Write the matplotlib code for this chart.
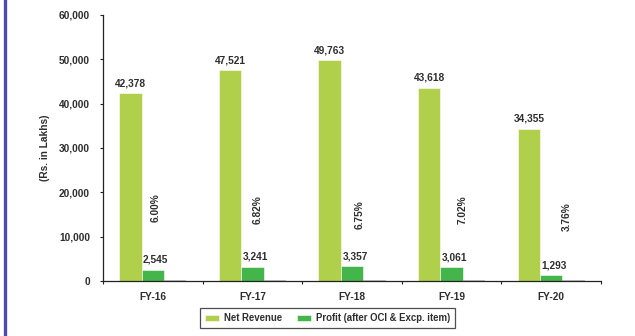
import matplotlib
matplotlib.use("Agg")
from matplotlib import pyplot as plt
from matplotlib.lines import Line2D
import numpy as np

years = ["FY-16", "FY-17", "FY-18", "FY-19", "FY-20"]
net_revenue = [42378, 47521, 49763, 43618, 34355]
profit = [2545, 3241, 3357, 3061, 1293]
margin = [6.00, 6.82, 6.75, 7.02, 3.76]

# where the rotated margin labels sit (x offset from group centre, y in data units)
pct_dx = [0.03, 0.05, 0.08, 0.11, 0.16]
pct_y = [16500, 16000, 14900, 16000, 14500]

plt.rcParams['font.family'] = ['Liberation Sans', 'DejaVu Sans']
txt = '#2e2e2e'
c_rev = '#b0cf4b'
c_pro = '#43b54b'
c_mar = '#b8b8b8'
fs = 7.3

fig = plt.figure(figsize=(6.35, 3.36), dpi=100)
ax = fig.add_axes([0.1622, 0.1637, 0.7843, 0.7917])

x = np.arange(len(years))
w = 0.225
b1 = ax.bar(x - w, net_revenue, w, color=c_rev, edgecolor='white', linewidth=0.4)
b2 = ax.bar(x, profit, w, color=c_pro, edgecolor='white', linewidth=0.4)
b3 = ax.bar(x + w, margin, w, color=c_mar, edgecolor=c_mar, linewidth=1.2)

for xi, v in zip(x, net_revenue):
    ax.text(xi - w, v + 1100, f"{v:,}", ha='center', va='bottom',
            fontsize=fs, fontweight='bold', color=txt)
for xi, v in zip(x, profit):
    ax.text(xi + 0.03, v + 1100, f"{v:,}", ha='center', va='bottom',
            fontsize=fs, fontweight='bold', color=txt)
for xi, v, dx, yy in zip(x, margin, pct_dx, pct_y):
    ax.text(xi + dx, yy, f"{v:.2f}%", ha='center', va='center', rotation=90,
            fontsize=fs, fontweight='bold', color=txt)

ax.set_xlim(-0.5, len(years) - 0.5)
ax.set_ylim(0, 60000)
ax.set_yticks(np.arange(0, 60001, 10000))
ax.set_yticklabels([f"{t:,}" for t in range(0, 60001, 10000)])
ax.set_xticks(x)
ax.set_xticklabels(years)
ax.set_xticks(np.arange(-0.5, len(years)), minor=True)
ax.tick_params(axis='x', which='major', length=0, pad=8)
ax.tick_params(axis='x', which='minor', length=2.5, width=0.8, color='#222222')
ax.tick_params(axis='y', length=2.4, width=0.8, color='#222222', pad=7)
for lab in ax.get_xticklabels() + ax.get_yticklabels():
    lab.set_fontsize(fs)
    lab.set_fontweight('bold')
    lab.set_color(txt)

for s in ['top', 'right']:
    ax.spines[s].set_visible(False)
for s in ['left', 'bottom']:
    ax.spines[s].set_linewidth(0.9)
    ax.spines[s].set_color('#222222')

ax.set_ylabel("(Rs. in Lakhs)", fontsize=fs, fontweight='bold', color=txt, labelpad=6)

leg = ax.legend([b1, b2], ["Net Revenue", "Profit (after OCI & Excp. item)"],
                loc='upper center', bbox_to_anchor=(0.451, -0.085), ncol=2,
                frameon=True, fancybox=False, handlelength=1.5, handleheight=0.5,
                columnspacing=1.5, borderpad=0.5, handletextpad=0.5,
                prop={'size': 6.9, 'weight': 'bold'})
leg.get_frame().set_edgecolor('#222222')
leg.get_frame().set_linewidth(0.9)
for t in leg.get_texts():
    t.set_color(txt)

# left border stripe
fig.add_artist(Line2D([0.0075, 0.0075], [0, 1], transform=fig.transFigure,
                      color='#4c4cb0', linewidth=2.4))

fig.savefig("out.png", dpi=100)
